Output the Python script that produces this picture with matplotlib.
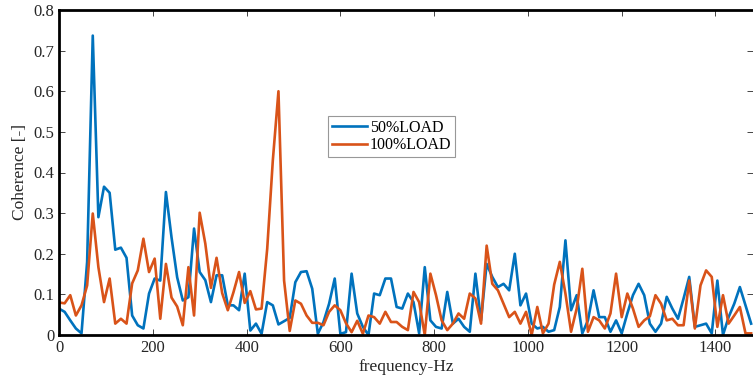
import numpy as np
import matplotlib
matplotlib.use("Agg")
import matplotlib.pyplot as plt

df_hz = 12.0
blue_vals = [0.065, 0.057, 0.036, 0.016, 0.004, 0.18, 0.737, 0.29, 0.365, 0.35,
             0.21, 0.215, 0.19, 0.048, 0.024, 0.016, 0.102, 0.139, 0.134, 0.352,
             0.24, 0.142, 0.085, 0.093, 0.262, 0.155, 0.135, 0.081, 0.147, 0.147,
             0.073, 0.073, 0.061, 0.151, 0.011, 0.028, 0.003, 0.081, 0.073, 0.026,
             0.034, 0.042, 0.13, 0.155, 0.157, 0.114, 0.003, 0.032, 0.077, 0.139,
             0.003, 0.007, 0.151, 0.053, 0.02, 0.0, 0.102, 0.098, 0.139, 0.139,
             0.069, 0.065, 0.102, 0.081, 0.004, 0.167, 0.036, 0.02, 0.016, 0.106,
             0.028, 0.04, 0.02, 0.008, 0.151, 0.036, 0.175, 0.143, 0.118, 0.126,
             0.11, 0.2, 0.073, 0.102, 0.028, 0.016, 0.02, 0.008, 0.012, 0.069,
             0.233, 0.061, 0.098, 0.004, 0.036, 0.11, 0.044, 0.044, 0.008, 0.036,
             0.004, 0.053, 0.098, 0.126, 0.098, 0.028, 0.008, 0.028, 0.094, 0.065,
             0.04, 0.09, 0.143, 0.02, 0.024, 0.028, 0.004, 0.134, 0.0, 0.044,
             0.077, 0.118, 0.073, 0.028]
orange_vals = [0.08, 0.078, 0.098, 0.048, 0.073, 0.122, 0.299, 0.167, 0.081, 0.139,
               0.028, 0.04, 0.028, 0.127, 0.159, 0.237, 0.155, 0.188, 0.04, 0.175,
               0.092, 0.07, 0.024, 0.167, 0.048, 0.301, 0.225, 0.116, 0.19, 0.103,
               0.061, 0.105, 0.155, 0.079, 0.108, 0.063, 0.065, 0.212, 0.43, 0.6,
               0.134, 0.01, 0.085, 0.077, 0.048, 0.03, 0.03, 0.024, 0.057, 0.073,
               0.061, 0.029, 0.007, 0.035, 0.003, 0.048, 0.044, 0.028, 0.057, 0.032,
               0.032, 0.02, 0.012, 0.106, 0.081, 0.0, 0.151, 0.098, 0.036, 0.012,
               0.028, 0.053, 0.04, 0.102, 0.09, 0.028, 0.22, 0.126, 0.11, 0.077,
               0.044, 0.057, 0.028, 0.057, 0.0, 0.069, 0.004, 0.028, 0.124, 0.18,
               0.102, 0.008, 0.065, 0.163, 0.008, 0.044, 0.036, 0.016, 0.053, 0.151,
               0.044, 0.102, 0.065, 0.02, 0.036, 0.046, 0.098, 0.077, 0.036, 0.04,
               0.024, 0.024, 0.134, 0.016, 0.122, 0.159, 0.143, 0.02, 0.098, 0.028,
               0.048, 0.069, 0.004, 0.004]
freq = np.arange(len(blue_vals)) * df_hz
series_labels = ["50%LOAD", "100%LOAD"]
x_ticks = [0, 200, 400, 600, 800, 1000, 1200, 1400]
y_ticks = [0, 0.1, 0.2, 0.3, 0.4, 0.5, 0.6, 0.7, 0.8]
y_ticklabels = ["0", "0.1", "0.2", "0.3", "0.4", "0.5", "0.6", "0.7", "0.8"]

plt.rcParams['font.family'] = ['Liberation Serif', 'DejaVu Serif']

W, H = 753, 381
fig = plt.figure(figsize=(W / 100, H / 100), dpi=100)
ax = fig.add_axes([59 / W, 1 - 335 / H, (W - 59) / W, (335 - 10) / H])

ax.plot(freq, blue_vals, color='#0072BD', lw=1.9, label=series_labels[0])
ax.plot(freq, orange_vals, color='#D95319', lw=1.9, label=series_labels[1])

ax.set_xlim(0, 1480)
ax.set_ylim(0, 0.8)
ax.set_xticks(x_ticks)
ax.set_yticks(y_ticks)
ax.set_yticklabels(y_ticklabels)
ax.tick_params(direction='in', length=4, width=0.6, labelsize=12,
               top=True, right=True, colors='#262626', labelcolor='#262626')
for s in ['left', 'bottom', 'top']:
    ax.spines[s].set_linewidth(2.0)
    ax.spines[s].set_color('black')
ax.spines['right'].set_visible(False)

ax.set_xlabel('frequency-Hz', fontsize=12.5, labelpad=2, color='#262626')
ax.set_ylabel('Coherence [-]', fontsize=12.5, labelpad=4, color='#262626')

leg = ax.legend(loc='upper left', bbox_to_anchor=(0.388, 0.675), fontsize=11.5,
                frameon=True, fancybox=False, edgecolor='#7f7f7f',
                handlelength=2.2, handletextpad=0.15, borderpad=0.25,
                labelspacing=0.1, borderaxespad=0)
leg.get_frame().set_linewidth(0.8)

fig.savefig('out.png', dpi=100)
